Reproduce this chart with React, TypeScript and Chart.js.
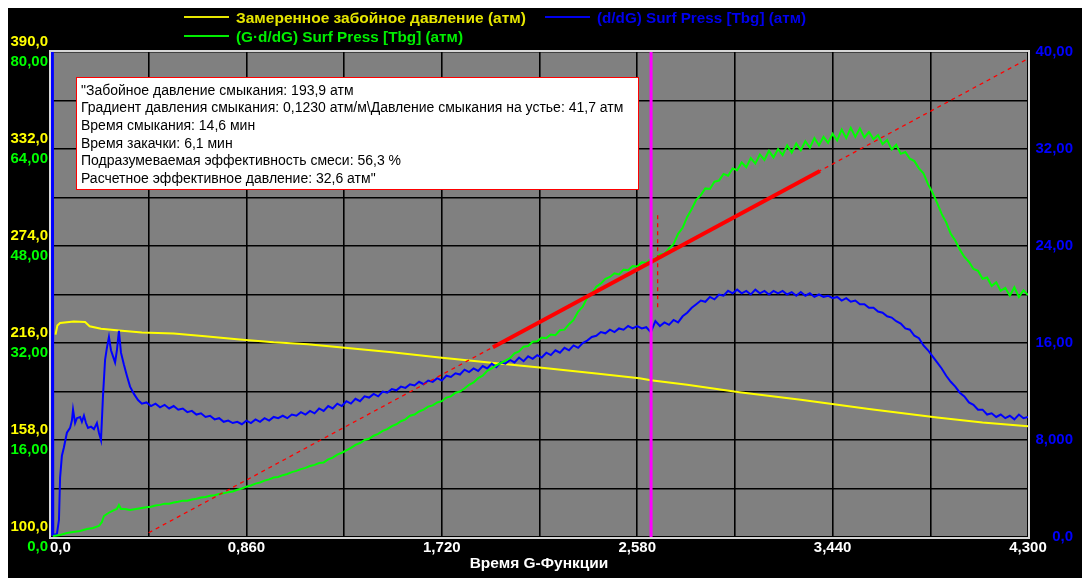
import React, { useEffect, useRef } from "react";
import { Chart, registerables } from "chart.js";

Chart.register(...registerables);

// ---- axes -----------------------------------------------------------------
const xTickValues = [0, 0.86, 1.72, 2.58, 3.44, 4.3];
const xTickLabels = ["0,0", "0,860", "1,720", "2,580", "3,440", "4,300"];
const xGridValues = [0, 0.43, 0.86, 1.29, 1.72, 2.15, 2.58, 3.01, 3.44, 3.87, 4.3];

const pressTickValues = [100, 158, 216, 274, 332, 390];
const pressTickLabels = ["100,0", "158,0", "216,0", "274,0", "332,0", "390,0"];

const gddTickValues = [0, 16, 32, 48, 64, 80];
const gddTickLabels = ["0,0", "16,00", "32,00", "48,00", "64,00", "80,00"];
const gddGridValues = [0, 8, 16, 24, 32, 40, 48, 56, 64, 72, 80];

const ddgTickValues = [0, 8, 16, 24, 32, 40];
const ddgTickLabels = ["0,0", "8,000", "16,00", "24,00", "32,00", "40,00"];

const xTitle = "Время G-Функции";
const legendPress = "Замеренное забойное давление (атм)";
const legendDdg = "(d/dG) Surf Press [Tbg] (атм)";
const legendGdd = "(G·d/dG) Surf Press [Tbg] (атм)";

const infoLines = [
  "\"Забойное давление смыкания: 193,9 атм",
  "Градиент давления смыкания: 0,1230 атм/м\\Давление смыкания на устье: 41,7 атм",
  "Время смыкания: 14,6 мин",
  "Время закачки: 6,1 мин",
  "Подразумеваемая эффективность смеси: 56,3 %",
  "Расчетное эффективное давление: 32,6 атм\"",
];

// ---- measured bottom-hole pressure (left axis, атм) ------------------------
const pressG = [0.02, 0.028, 0.04, 0.1, 0.15, 0.17, 0.22, 0.3, 0.4, 0.54, 0.69, 0.83, 0.98, 1.13, 1.27, 1.5, 1.71, 1.95, 2.15, 2.4, 2.59, 2.64, 2.8, 3.03, 3.3, 3.6, 3.9, 4.1, 4.3];
const pressV = [221, 226.5, 228.0, 228.9, 228.5, 226.0, 224.5, 223.5, 222.3, 221.7, 219.9, 218.1, 216.4, 215.2, 213.4, 210.5, 207.4, 204.0, 201.4, 197.8, 194.9, 193.7, 191.0, 186.5, 182.0, 176.5, 171.5, 168.5, 166.2];

// ---- early part of the derivative curves ------------------------------------
const ddgEarlyG = [0.004, 0.005, 0.008, 0.01, 0.013, 0.026, 0.035, 0.04, 0.048, 0.057, 0.07, 0.084, 0.092, 0.097, 0.106, 0.114, 0.128, 0.136, 0.145, 0.154, 0.163, 0.176, 0.189, 0.202, 0.211, 0.22, 0.229, 0.238, 0.246, 0.255, 0.264, 0.273, 0.282, 0.29, 0.299, 0.308, 0.321, 0.334, 0.348, 0.365, 0.383, 0.4];
const ddgEarlyV = [45, 0.2, 45, 0.16, 0.16, 0.25, 1.4, 4.9, 6.7, 7.4, 8.6, 9.0, 9.6, 10.5, 9.4, 9.8, 9.9, 9.5, 10.0, 9.4, 9.0, 9.1, 8.9, 9.4, 8.6, 8.0, 11.7, 14.6, 15.6, 16.5, 15.4, 14.9, 14.4, 15.4, 17.0, 15.2, 14.2, 13.3, 12.4, 11.8, 11.3, 11.0];

const gddEarlyG = [0.009, 0.04, 0.07, 0.097, 0.128, 0.158, 0.185, 0.211, 0.224, 0.233, 0.246, 0.26, 0.277, 0.29, 0.299, 0.308, 0.326, 0.348, 0.374, 0.4];
const gddEarlyV = [0.16, 0.33, 0.66, 0.82, 0.99, 1.32, 1.48, 1.81, 2.47, 3.46, 3.79, 4.12, 4.44, 4.61, 5.27, 4.61, 4.61, 4.44, 4.61, 4.77];

// ---- sampled derivative curves ----------------------------------------------
const sampleG = [
  0.42, 0.44, 0.46, 0.48, 0.50, 0.52, 0.54, 0.56, 0.58, 0.60,
  0.62, 0.64, 0.66, 0.68, 0.70, 0.72, 0.74, 0.76, 0.78, 0.80,
  0.82, 0.84, 0.86, 0.88, 0.90, 0.92, 0.94, 0.96, 0.98, 1.00,
  1.02, 1.04, 1.06, 1.08, 1.10, 1.12, 1.14, 1.16, 1.18, 1.20,
  1.22, 1.24, 1.26, 1.28, 1.30, 1.32, 1.34, 1.36, 1.38, 1.40,
  1.42, 1.44, 1.46, 1.48, 1.50, 1.52, 1.54, 1.56, 1.58, 1.60,
  1.62, 1.64, 1.66, 1.68, 1.70, 1.72, 1.74, 1.76, 1.78, 1.80,
  1.82, 1.84, 1.86, 1.88, 1.90, 1.92, 1.94, 1.96, 1.98, 2.00,
  2.02, 2.04, 2.06, 2.08, 2.10, 2.12, 2.14, 2.16, 2.18, 2.20,
  2.22, 2.24, 2.26, 2.28, 2.30, 2.32, 2.34, 2.36, 2.38, 2.40,
  2.42, 2.44, 2.46, 2.48, 2.50, 2.52, 2.54, 2.56, 2.58, 2.60,
  2.62, 2.64, 2.66, 2.68, 2.70, 2.72, 2.74, 2.76, 2.78, 2.80,
  2.82, 2.84, 2.86, 2.88, 2.90, 2.92, 2.94, 2.96, 2.98, 3.00,
  3.02, 3.04, 3.06, 3.08, 3.10, 3.12, 3.14, 3.16, 3.18, 3.20,
  3.22, 3.24, 3.26, 3.28, 3.30, 3.32, 3.34, 3.36, 3.38, 3.40,
  3.42, 3.44, 3.46, 3.48, 3.50, 3.52, 3.54, 3.56, 3.58, 3.60,
  3.62, 3.64, 3.66, 3.68, 3.70, 3.72, 3.74, 3.76, 3.78, 3.80,
  3.82, 3.84, 3.86, 3.88, 3.90, 3.92, 3.94, 3.96, 3.98, 4.00,
  4.02, 4.04, 4.06, 4.08, 4.10, 4.12, 4.14, 4.16, 4.18, 4.20,
  4.22, 4.24, 4.26, 4.28, 4.30,
];

// d/dG surface pressure (right axis)
const ddgV = [
  11.1, 10.8, 11.0, 10.7, 10.9, 10.6, 10.8, 10.5, 10.6, 10.3,
  10.4, 10.1, 10.2, 9.9, 10.0, 9.7, 9.8, 9.5, 9.6, 9.4,
  9.5, 9.3, 9.6, 9.4, 9.7, 9.5, 9.8, 9.6, 9.9, 9.8,
  10.0, 9.8, 10.1, 10.0, 10.3, 10.1, 10.4, 10.2, 10.6, 10.4,
  10.8, 10.6, 11.0, 10.8, 11.2, 11.0, 11.4, 11.2, 11.6, 11.5,
  11.8, 11.6, 12.0, 11.9, 12.2, 12.1, 12.4, 12.3, 12.6, 12.5,
  12.8, 12.6, 12.9, 12.8, 13.1, 12.9, 13.3, 13.2, 13.5, 13.4,
  13.8, 13.6, 13.9, 13.7, 14.1, 13.9, 14.3, 14.0, 14.4, 14.3,
  14.6, 14.4, 14.8, 14.5, 14.9, 14.7, 15.0, 14.8, 15.2, 15.0,
  15.4, 15.2, 15.6, 15.4, 15.8, 15.6, 16.0, 16.2, 16.5, 16.6,
  16.9, 16.8, 17.1, 16.9, 17.2, 17.1, 17.4, 17.2, 17.4, 17.2,
  17.3, 16.9, 17.8, 17.4, 17.7, 17.5, 17.9, 17.7, 18.2, 18.5,
  18.9, 19.2, 19.5, 19.4, 19.8, 19.6, 20.0, 19.9, 20.3, 20.1,
  20.4, 20.1, 20.3, 20.0, 20.4, 20.1, 20.3, 20.0, 20.3, 20.1,
  20.3, 20.0, 20.2, 19.9, 20.2, 19.9, 20.1, 19.8, 20.0, 19.8,
  19.9, 19.7, 19.8, 19.5, 19.7, 19.4, 19.5, 19.2, 19.2, 18.9,
  18.9, 18.6, 18.5, 18.2, 18.1, 17.8, 17.6, 17.2, 17.1, 16.6,
  16.4, 15.8, 15.4, 14.9, 14.4, 13.9, 13.3, 12.8, 12.4, 11.9,
  11.6, 11.1, 10.9, 10.5, 10.5, 10.1, 10.2, 9.9, 10.1, 9.8,
  10.0, 9.7, 10.1, 9.8, 9.9,
];

// G·d/dG surface pressure (left inner axis)
const gddV = [
  4.9, 5.0, 5.2, 5.3, 5.5, 5.5, 5.7, 5.8, 6.0, 6.0,
  6.2, 6.3, 6.5, 6.6, 6.8, 6.9, 7.1, 7.2, 7.4, 7.5,
  7.8, 8.0, 8.3, 8.5, 8.8, 9.0, 9.3, 9.5, 9.8, 9.9,
  10.2, 10.4, 10.7, 10.9, 11.2, 11.4, 11.7, 11.9, 12.2, 12.3,
  12.8, 13.1, 13.6, 13.9, 14.3, 14.7, 15.2, 15.5, 16.0, 16.2,
  16.7, 17.0, 17.5, 17.8, 18.3, 18.6, 19.1, 19.4, 20.0, 20.2,
  20.7, 21.0, 21.5, 21.7, 22.2, 22.4, 23.0, 23.2, 23.8, 24.0,
  24.5, 25.1, 25.5, 26.2, 26.6, 27.4, 27.8, 28.3, 28.7, 29.1,
  29.5, 30.3, 30.6, 31.4, 31.5, 32.2, 32.3, 32.9, 32.8, 33.4,
  33.3, 34.1, 34.2, 35.1, 35.8, 37.2, 38.0, 39.5, 40.1, 41.3,
  41.8, 42.6, 42.9, 43.5, 43.3, 44.1, 44.0, 44.7, 44.6, 45.3,
  45.2, 45.9, 45.8, 46.6, 46.7, 47.6, 48.3, 50.0, 51.0, 52.8,
  54.1, 55.6, 56.4, 57.5, 57.4, 58.6, 58.8, 59.9, 59.6, 60.8,
  60.5, 61.8, 61.0, 62.5, 61.6, 63.1, 62.2, 63.7, 62.6, 64.0,
  63.0, 64.6, 63.4, 64.9, 63.8, 65.3, 64.2, 65.8, 64.6, 66.0,
  65.0, 66.5, 65.4, 67.2, 65.8, 67.5, 66.0, 67.4, 65.9, 66.8,
  65.6, 66.3, 64.8, 65.5, 63.9, 64.7, 63.2, 63.5, 62.4, 62.0,
  60.8, 60.0, 58.2, 56.8, 55.1, 53.3, 51.9, 50.0, 48.9, 47.4,
  46.2, 45.4, 44.2, 43.9, 42.6, 42.8, 41.4, 42.0, 40.6, 41.1,
  39.8, 41.2, 39.6, 40.7, 39.9,
];

// ---- closure analysis overlays ---------------------------------------------
const closureG = [2.641, 2.641];
const closureV = [0, 80];
const tangentG = [0.43, 4.3];
const tangentV = [0.7, 78.9];
const tangentFitG = [1.945, 3.384];
const tangentFitV = [31.31, 60.38];
const markerG = [2.67, 2.67];
const markerV = [37.9, 53.3];

const pts = (xs: number[], ys: number[]) => xs.map((x, i) => ({ x, y: ys[i] }));

const FONT = "'Liberation Sans', Arial, sans-serif";

const decorPlugin = {
  id: "decor",
  beforeDraw(chart: any) {
    const { ctx, chartArea: a } = chart;
    ctx.save();
    ctx.fillStyle = "#808080";
    ctx.fillRect(a.left, a.top, a.right - a.left, a.bottom - a.top);
    ctx.restore();
  },
  afterDraw(chart: any) {
    const { ctx, chartArea: a, scales } = chart;
    const x = scales.x;
    const yP = scales.yP;
    const yG = scales.yG;
    const yB = scales.yB;
    ctx.save();

    // plot frame
    ctx.strokeStyle = "#d6d6d6";
    ctx.lineWidth = 2;
    ctx.strokeRect(a.left - 1, a.top - 1, a.right - a.left + 2, a.bottom - a.top + 2);

    // left tick labels: pressure above the grid line, G·d/dG below it
    ctx.font = `bold 15px ${FONT}`;
    ctx.textBaseline = "middle";
    ctx.textAlign = "right";
    pressTickValues.forEach((v, i) => {
      ctx.fillStyle = "#ffff00";
      ctx.fillText(pressTickLabels[i], 40, yP.getPixelForValue(v) - 10);
    });
    gddTickValues.forEach((v, i) => {
      ctx.fillStyle = "#00ff00";
      ctx.fillText(gddTickLabels[i], 40, yG.getPixelForValue(v) + 10);
    });

    // right tick labels
    ctx.fillStyle = "#0000ff";
    ddgTickValues.forEach((v, i) => {
      ctx.fillText(ddgTickLabels[i], 1065, yB.getPixelForValue(v));
    });

    // bottom tick labels
    ctx.fillStyle = "#ffffff";
    xTickValues.forEach((v, i) => {
      const px = x.getPixelForValue(v);
      if (i === 0) {
        ctx.textAlign = "left";
        ctx.fillText(xTickLabels[i], px - 1, 540);
      } else {
        ctx.textAlign = "center";
        ctx.fillText(xTickLabels[i], px, 540);
      }
    });

    // axis title
    ctx.font = `bold 15.5px ${FONT}`;
    ctx.textAlign = "center";
    ctx.fillText(xTitle, 531, 556);

    // legend
    const legendItem = (lx: number, ly: number, color: string, text: string, width: number) => {
      ctx.strokeStyle = color;
      ctx.lineWidth = 2;
      ctx.beginPath();
      ctx.moveTo(lx, ly);
      ctx.lineTo(lx + 45, ly);
      ctx.stroke();
      ctx.fillStyle = color;
      ctx.textAlign = "left";
      ctx.font = `bold 15.5px ${FONT}`;
      ctx.fillText(text, lx + 52, ly + 2, width);
    };
    legendItem(176, 9, "#e6e600", legendPress, 294);
    legendItem(537, 9, "#0000ee", legendDdg, 209);
    legendItem(176, 28, "#00ee00", legendGdd, 227);

    // annotation box
    ctx.fillStyle = "#ffffff";
    ctx.fillRect(68, 69, 562, 112);
    ctx.strokeStyle = "#ff0000";
    ctx.lineWidth = 1;
    ctx.strokeRect(68.5, 69.5, 562, 112);
    ctx.fillStyle = "#000000";
    ctx.font = `14px ${FONT}`;
    ctx.textAlign = "left";
    infoLines.forEach((t, i) => {
      ctx.fillText(t, 73, 83 + i * 17.6);
    });

    ctx.restore();
  },
};

export default function App() {
  const canvasRef = useRef<HTMLCanvasElement | null>(null);

  useEffect(() => {
    document.body.style.overflow = "hidden";
    const canvas = canvasRef.current;
    if (!canvas) return;

    const line = (data: any[], color: string, width: number, yAxisID: string, dash: number[] = []) => ({
      data,
      borderColor: color,
      backgroundColor: color,
      borderWidth: width,
      borderDash: dash,
      pointRadius: 0,
      tension: 0,
      fill: false,
      yAxisID,
    });

    const chart = new Chart(canvas, {
      type: "line",
      data: {
        datasets: [
          line(pts(closureG, closureV), "#ff00ff", 3, "yG"),
          line(pts(tangentFitG, tangentFitV), "#ff0000", 4, "yG"),
          line(pts(markerG, markerV), "#ff0000", 1.3, "yG", [4, 4]),
          line(pts(tangentG, tangentV), "#ff0000", 1.3, "yG", [4, 4]),
          line(pts(gddEarlyG.concat(sampleG), gddEarlyV.concat(gddV)), "#00ff00", 2, "yG"),
          line(pts(ddgEarlyG.concat(sampleG), ddgEarlyV.concat(ddgV)), "#0000ff", 2, "yB"),
          line(pts(pressG, pressV), "#ffff00", 2, "yP"),
        ],
      },
      options: {
        responsive: false,
        animation: false,
        devicePixelRatio: 1,
        events: [],
        layout: { padding: { left: 43, top: 44, right: 62, bottom: 41 } },
        plugins: { legend: { display: false }, tooltip: { enabled: false } },
        scales: {
          x: {
            type: "linear",
            min: 0,
            max: 4.3,
            afterBuildTicks: (s: any) => {
              s.ticks = xGridValues.map((v) => ({ value: v }));
            },
            ticks: { display: false },
            grid: { color: "#000000", lineWidth: 1.6, drawTicks: false },
            border: { display: false },
          },
          yG: {
            type: "linear",
            position: "left",
            min: 0,
            max: 80,
            afterBuildTicks: (s: any) => {
              s.ticks = gddGridValues.map((v) => ({ value: v }));
            },
            ticks: { display: false },
            grid: { color: "#000000", lineWidth: 1.6, drawTicks: false },
            border: { display: false },
          },
          yP: { type: "linear", display: false, min: 100, max: 390 },
          yB: { type: "linear", display: false, position: "right", min: 0, max: 40 },
        },
      },
      plugins: [decorPlugin],
    } as any);

    return () => chart.destroy();
  }, []);

  return (
    <div style={{ width: 1082, height: 570, background: "#000000" }}>
      <canvas ref={canvasRef} width={1082} height={570} style={{ display: "block" }} />
    </div>
  );
}
